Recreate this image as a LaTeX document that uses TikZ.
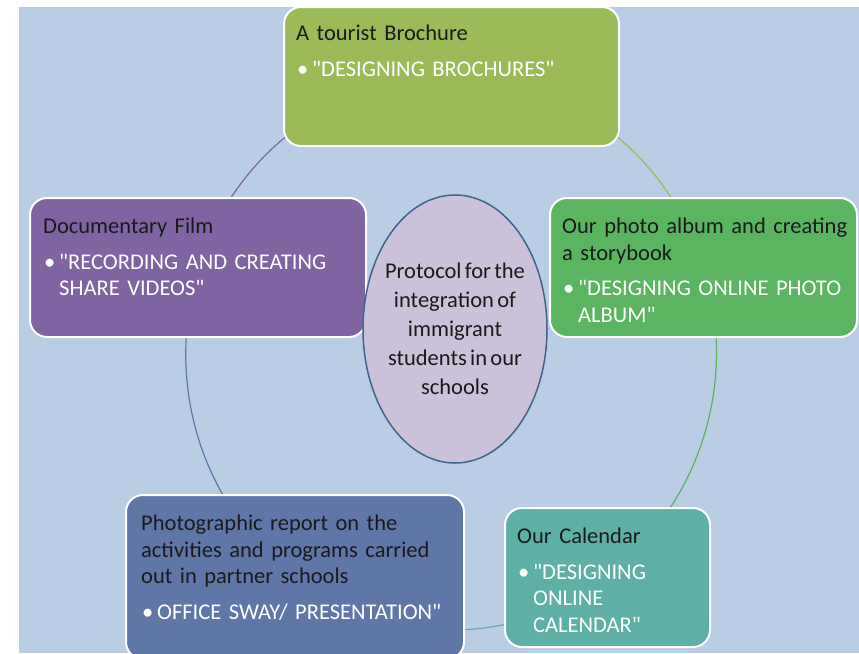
\documentclass[tikz,border=0pt]{standalone}
\usepackage{fontspec}
\setmainfont{Carlito}[Ligatures=TeXOff, WordSpace=0.65]
\usetikzlibrary{shapes.geometric}

\definecolor{bgblue}{HTML}{B9CDE5}
\definecolor{olive}{HTML}{9BBB59}
\definecolor{leaf}{HTML}{5BB560}
\definecolor{teal}{HTML}{5EAFA6}
\definecolor{slate}{HTML}{5F77A7}
\definecolor{violet}{HTML}{8064A2}
\definecolor{lilac}{HTML}{CCC1DA}
\definecolor{rim}{HTML}{41648F}
\definecolor{ink}{HTML}{1A1A1A}

\newcommand{\hd}[1]{{\color{ink}#1}}
\newcommand{\bul}{\makebox[16pt][l]{\hspace{1pt}\textbullet}}
\newcommand{\ind}{\hspace*{16pt}}

\begin{document}
\begin{tikzpicture}[x=1pt,y=1pt,
    box/.style={draw=white, line width=2pt, rounded corners=17pt, minimum height=139pt, inner sep=0pt},
    txt/.style={anchor=north west, inner sep=0pt, align=left, text width=330pt, text=white,
      font=\fontsize{22.5}{26.5}\selectfont},
    cyclearc/.style={line width=1.2pt}]

    % page and background
    \clip (0,0) rectangle (859,-653);
    \fill[white] (0,0) rectangle (859,-653);
    \fill[bgblue] (19,-7) rectangle (859,-653);

    % box centres on the cycle
    \coordinate (brochureC) at (451.5,-76.5);
    \coordinate (albumC) at (703.5,-267.5);
    \coordinate (calendarC) at (607.5,-577.5);
    \coordinate (reportC) at (295,-577);
    \coordinate (filmC) at (198,-267.5);

    % cycle arcs
    \draw[cyclearc, olive] (brochureC) arc[start angle=90, end angle=18, x radius=265, y radius=275];
    \draw[cyclearc, leaf] (albumC) arc[start angle=18, end angle=-54, x radius=265, y radius=275];
    \draw[cyclearc, teal] (calendarC) arc[start angle=-54, end angle=-126, x radius=265, y radius=275];
    \draw[cyclearc, slate] (reportC) arc[start angle=-126, end angle=-198, x radius=265, y radius=275];
    \draw[cyclearc, violet] (filmC) arc[start angle=162, end angle=90, x radius=265, y radius=275];

    % boxes
    \node[box, fill=olive, minimum width=335pt] (brochure) at (brochureC) {};
    \node[box, fill=leaf, minimum width=307pt] (album) at (albumC) {};
    \node[box, fill=teal, minimum width=205pt] (calendar) at (calendarC) {};
    \node[box, fill=slate, minimum width=338pt, minimum height=164pt] (report) at (reportC) {};
    \node[box, fill=violet, minimum width=336pt] (film) at (filmC) {};

    % texts
    \node[txt] (brochureText) at ([xshift=13pt,yshift=-16pt]brochure.north west)
        {\strut\hd{A tourist Brochure}\\[9pt]\bul"DESIGNING BROCHURES"};
    \node[txt] (albumText) at ([xshift=13pt,yshift=-18pt]album.north west)
        {\strut\hd{Our photo album and creating}\\\hd{a storybook}\\[9pt]\bul"DESIGNING ONLINE PHOTO\\\ind ALBUM"};
    \node[txt] (calendarText) at ([xshift=13pt,yshift=-18pt]calendar.north west)
        {\strut\hd{Our Calendar}\\[9pt]\bul"DESIGNING\\\ind ONLINE\\\ind CALENDAR"};
    \node[txt] (reportText) at ([xshift=16pt,yshift=-18pt]report.north west)
        {\strut\hd{Photographic report on the}\\\hd{activities and programs carried}\\\hd{out in partner schools}\\[9pt]\bul OFFICE SWAY/ PRESENTATION"};
    \node[txt] (filmText) at ([xshift=14pt,yshift=-18pt]film.north west)
        {\strut\hd{Documentary Film}\\[9pt]\bul"RECORDING AND CREATING\\\ind SHARE VIDEOS"};

    % centre
    \node[ellipse, draw=rim, line width=1.5pt, fill=lilac, minimum width=184pt, minimum height=268pt,
        inner sep=0pt] (protocol) at (455,-329) {};
    \node[align=center, text=ink, inner sep=0pt, font=\fontsize{22.5}{29}\selectfont] (protocolText) at (protocol)
        {Protocol for the\\integration of\\immigrant\\students in our\\schools};
\end{tikzpicture}
\end{document}
